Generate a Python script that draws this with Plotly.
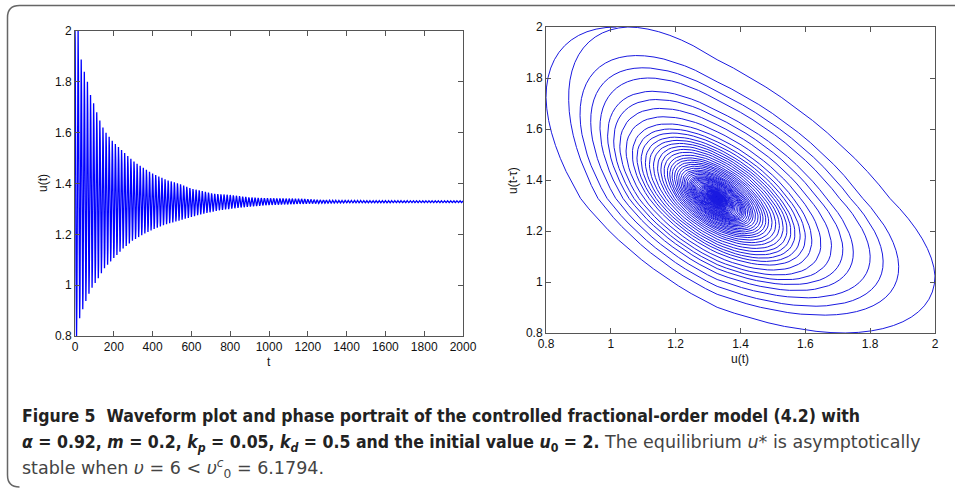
import numpy as np
import plotly.graph_objects as go

# ---------------- data ----------------
# waveform: upper envelope (peak values) read at times t
upper_t = [0, 16, 28, 48, 64, 79, 94, 110, 124, 144, 160, 195, 242, 298, 335, 397,
           471, 540, 600, 712, 798, 902, 988, 1160, 1246, 1330, 1500, 2000]
upper_v = [2.0, 2.0, 1.90, 1.84, 1.80, 1.75, 1.72, 1.685, 1.655, 1.62, 1.60, 1.565,
           1.53, 1.49, 1.47, 1.44, 1.414, 1.398, 1.38, 1.36, 1.355, 1.345, 1.342,
           1.34, 1.336, 1.334, 1.333, 1.332]
# lower envelope (trough values) read at times t
lower_t = [0, 8, 24, 40, 57, 71, 88, 122, 155, 198, 249, 297, 352, 404, 471, 550,
           644, 747, 850, 988, 1160, 1400, 2000]
lower_v = [0.80, 0.80, 0.87, 0.905, 0.94, 0.965, 0.99, 1.03, 1.07, 1.105, 1.145,
           1.175, 1.20, 1.22, 1.24, 1.257, 1.278, 1.295, 1.305, 1.315, 1.32, 1.324,
           1.325]
equilibrium = 1.328      # level the oscillation settles on
period = 16.0            # spacing of successive peaks (time units)
phase_lag = 2.2          # phase of u(t-tau) behind u(t), read from ellipse shape

x_ticks_left = [0, 200, 400, 600, 800, 1000, 1200, 1400, 1600, 1800, 2000]
u_ticks = [0.8, 1.0, 1.2, 1.4, 1.6, 1.8, 2.0]
u_tick_text = ["0.8", "1", "1.2", "1.4", "1.6", "1.8", "2"]

# ---------------- build the waveform from envelopes ----------------
dt = 0.2
t = np.arange(0, 2000 + dt, dt)
U = np.interp(t, upper_t, upper_v)
L = np.interp(t, lower_t, lower_v)
c = np.cos(2 * np.pi * t / period)
u = np.where(c >= 0, equilibrium + (U - equilibrium) * c,
             equilibrium + (equilibrium - L) * c)

lag = int(round(phase_lag / (2 * np.pi) * period / dt))
u_now = u[lag:]
u_del = u[:-lag]

W, H = 955, 488
def px(x): return x / W
def py(y): return 1 - y / H

fig = go.Figure()
fig.add_trace(go.Scatter(x=t, y=u, mode="lines", line=dict(color="#0000ff", width=1.3),
                         xaxis="x", yaxis="y", showlegend=False, hoverinfo="skip"))
fig.add_trace(go.Scatter(x=u_now, y=u_del, mode="lines", line=dict(color="#1a1ae0", width=1),
                         xaxis="x2", yaxis="y2", showlegend=False, hoverinfo="skip"))

axis_style = dict(showline=True, mirror="ticks", linecolor="#555", linewidth=1,
                  ticks="inside", ticklen=5, tickcolor="#555", showgrid=False,
                  zeroline=False, automargin=False,
                  tickfont=dict(family="Liberation Sans, Arial", size=12, color="#111"))

fig.update_layout(
    width=W, height=H, margin=dict(l=0, r=0, t=0, b=0, autoexpand=False),
    paper_bgcolor="white", plot_bgcolor="white",
    xaxis=dict(domain=[px(75), px(463)], range=[0, 2000], tickvals=x_ticks_left,
               anchor="y", **axis_style),
    yaxis=dict(domain=[py(336), py(31)], range=[0.8, 2.0], tickvals=u_ticks,
               ticktext=u_tick_text, anchor="x", **axis_style),
    xaxis2=dict(domain=[px(546), px(935)], range=[0.8, 2.0], tickvals=u_ticks,
                ticktext=u_tick_text, anchor="y2", **axis_style),
    yaxis2=dict(domain=[py(333), py(27)], range=[0.8, 2.0], tickvals=u_ticks,
                ticktext=u_tick_text, anchor="x2", **axis_style),
)

lab = dict(family="Liberation Sans, Arial", size=12, color="#111")
ann = [
    dict(x=px(269), y=py(362), text="t", font=lab),
    dict(x=px(43), y=py(183), text="u(t)", font=lab, textangle=-90),
    dict(x=px(740), y=py(359), text="u(t)", font=lab),
    dict(x=px(513), y=py(181), text="u(t-τ)", font=lab, textangle=-90),
]
for a in ann:
    fig.add_annotation(xref="paper", yref="paper", showarrow=False,
                       xanchor="center", yanchor="middle", **a)

cap_font = dict(family="DejaVu Sans Condensed, DejaVu Sans", size=17.5, color="#222")
reg = "<span style='color:#444;font-family:DejaVu Sans;font-size:17.5px'>"
line1 = "<b>Figure 5  Waveform plot and phase portrait of the controlled fractional-order model (4.2) with</b>"
line2 = ("<b><i>α</i> = 0.92, <i>m</i> = 0.2, <i>k</i><sub><i>p</i></sub> = 0.05, "
         "<i>k</i><sub><i>d</i></sub> = 0.5 and the initial value <i>u</i><sub>0</sub> = 2.</b>"
         + reg + " The equilibrium <i>u</i>* is asymptotically</span>")
line3 = (reg + "stable when <i>υ</i> = 6 &lt; <i>υ</i><sup><i>c</i></sup><sub>0</sub> = 6.1794.</span>")
for txt, yy in [(line1, 416), (line2, 443), (line3, 468)]:
    fig.add_annotation(xref="paper", yref="paper", x=px(20), y=py(yy), xanchor="left",
                       yanchor="middle", showarrow=False, text=txt, font=cap_font, align="left")

# card border (rounded corners on the left)
r = 12
x0, y0, y1 = 7.5, 5.5, 487
path = (f"M {px(W+5)},{py(y0)} L {px(x0+r)},{py(y0)} Q {px(x0)},{py(y0)} {px(x0)},{py(y0+r)} "
        f"L {px(x0)},{py(y1-r)} Q {px(x0)},{py(y1)} {px(x0+r)},{py(y1)}")
fig.add_shape(type="path", xref="paper", yref="paper", path=path,
              line=dict(color="#666", width=1.5))

fig.write_html("out.html")
